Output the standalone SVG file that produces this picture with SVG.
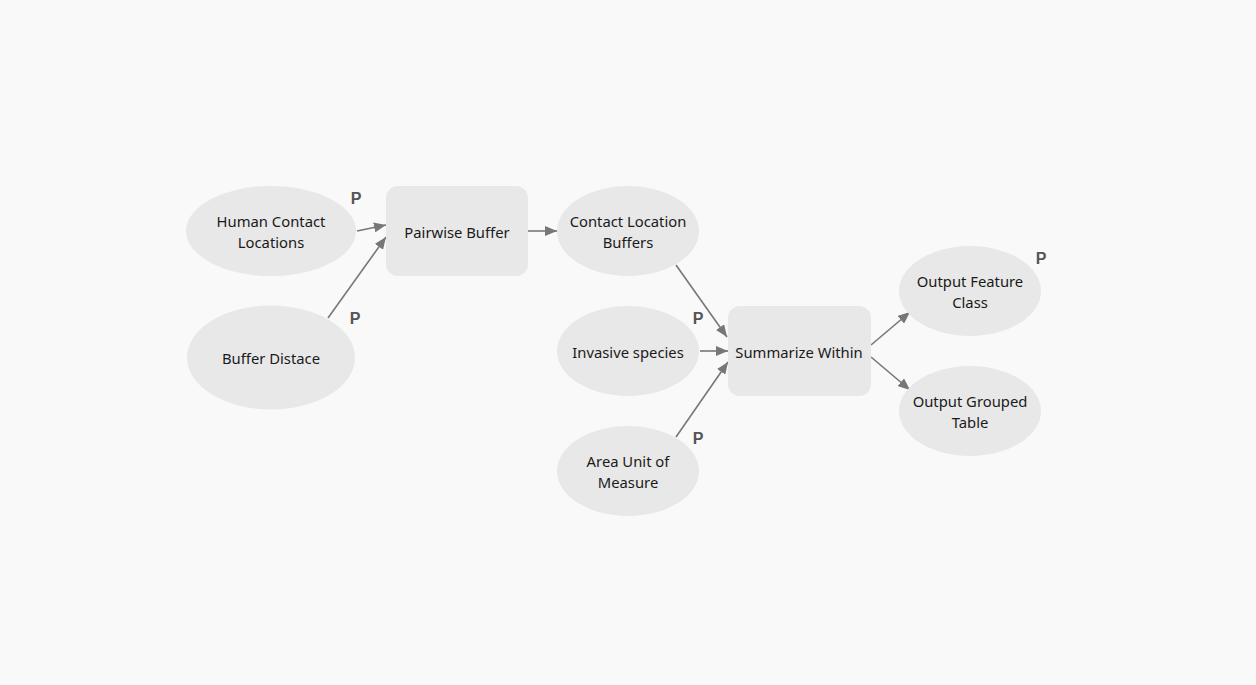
<svg xmlns="http://www.w3.org/2000/svg" width="1256" height="685" viewBox="0 0 1256 685">
<style>
.n{fill:#e8e8e8;stroke:none}
.t{font-family:"Noto Sans","Open Sans",sans-serif;font-size:14.8px;fill:#1a1a1a;text-anchor:middle;dominant-baseline:central}
.p{font-family:"Liberation Sans",Arial,sans-serif;font-size:16px;font-weight:bold;fill:#555;text-anchor:middle;dominant-baseline:central}
.c{stroke:#777;stroke-width:1.6;fill:none;marker-end:url(#ah)}
</style>
<defs>
<marker id="ah" viewBox="0 0 12 10" refX="12" refY="5" markerWidth="12" markerHeight="10" markerUnits="userSpaceOnUse" orient="auto">
<path d="M0,0 L12,5 L0,10 z" fill="#777"/>
</marker>
</defs>
<rect width="1256" height="685" fill="#f9f9f9"/>
<g id="connectors">
<line class="c" x1="357" y1="231" x2="386" y2="225"/>
<line class="c" x1="328" y1="318" x2="386" y2="237"/>
<line class="c" x1="528" y1="231" x2="557" y2="231"/>
<line class="c" x1="676" y1="265" x2="727" y2="337"/>
<line class="c" x1="700" y1="351" x2="728" y2="351"/>
<line class="c" x1="676" y1="437" x2="728" y2="362"/>
<line class="c" x1="871" y1="345" x2="910" y2="312"/>
<line class="c" x1="871" y1="357" x2="910" y2="390"/>
</g>
<g id="human-contact-locations">
<ellipse class="n" cx="271" cy="231" rx="85" ry="45"/>
<text class="t" x="271" y="221">Human Contact</text>
<text class="t" x="271" y="242">Locations</text>
<text class="p" x="356" y="198">P</text>
</g>
<g id="buffer-distace">
<ellipse class="n" cx="271" cy="357.5" rx="84" ry="52"/>
<text class="t" x="271" y="358">Buffer Distace</text>
<text class="p" x="355" y="318">P</text>
</g>
<g id="pairwise-buffer">
<rect class="n" x="386" y="186" width="142" height="90" rx="12"/>
<text class="t" x="457" y="232">Pairwise Buffer</text>
</g>
<g id="contact-location-buffers">
<ellipse class="n" cx="628" cy="231" rx="71" ry="45"/>
<text class="t" x="628" y="221">Contact Location</text>
<text class="t" x="628" y="242">Buffers</text>
</g>
<g id="invasive-species">
<ellipse class="n" cx="628" cy="351" rx="71" ry="45"/>
<text class="t" x="628" y="352">Invasive species</text>
<text class="p" x="698" y="318">P</text>
</g>
<g id="area-unit-of-measure">
<ellipse class="n" cx="628" cy="471" rx="71" ry="45"/>
<text class="t" x="628" y="461">Area Unit of</text>
<text class="t" x="628" y="482">Measure</text>
<text class="p" x="698" y="438">P</text>
</g>
<g id="summarize-within">
<rect class="n" x="728" y="306" width="143" height="90" rx="12"/>
<text class="t" x="799" y="352">Summarize Within</text>
</g>
<g id="output-feature-class">
<ellipse class="n" cx="970" cy="291" rx="71" ry="45"/>
<text class="t" x="970" y="281">Output Feature</text>
<text class="t" x="970" y="302">Class</text>
<text class="p" x="1041" y="258">P</text>
</g>
<g id="output-grouped-table">
<ellipse class="n" cx="970" cy="411" rx="71" ry="45"/>
<text class="t" x="970" y="401">Output Grouped</text>
<text class="t" x="970" y="422">Table</text>
</g>
</svg>
